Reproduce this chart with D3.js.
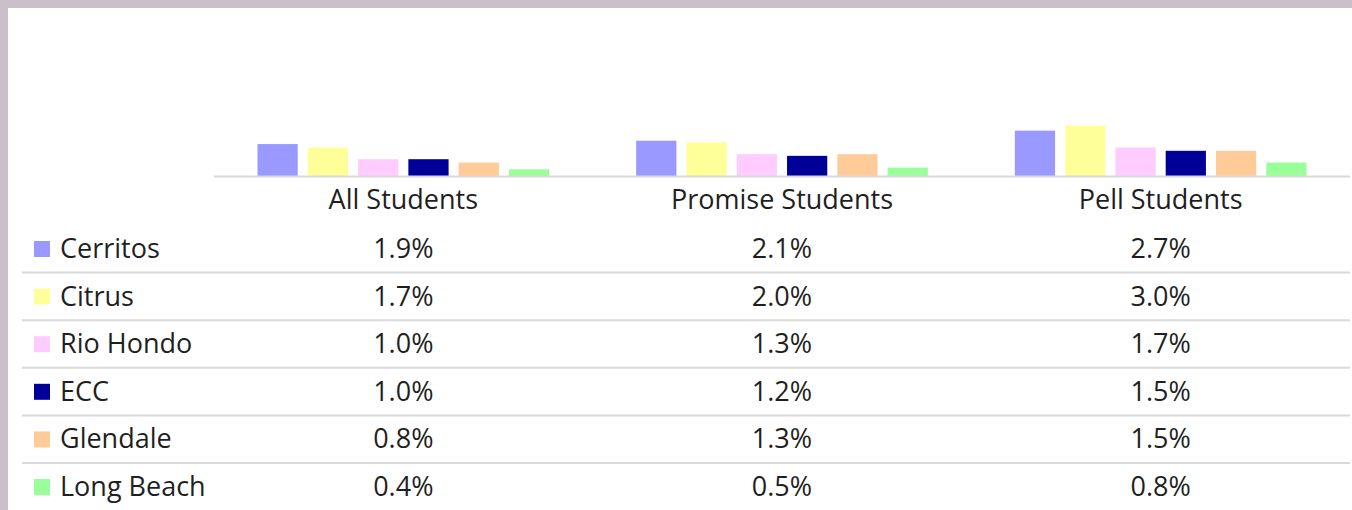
<!DOCTYPE html>
<html lang="en">
<head>
<meta charset="utf-8">
<script src="https://d3js.org/d3.v7.min.js"></script>
<style>
  html, body { margin: 0; padding: 0; background: #fff; }
  svg { display: block; font-family: "Open Sans", sans-serif; }
</style>
</head>
<body>
<script>
// chart data
var groups = ["All Students", "Promise Students", "Pell Students"];
var colleges = ["Cerritos", "Citrus", "Rio Hondo", "ECC", "Glendale", "Long Beach"];
var colors = ["#9999ff", "#ffff99", "#ffccff", "#000099", "#ffcc99", "#99ff99"];
var allStudents = [1.9, 1.7, 1.0, 1.0, 0.8, 0.4];
var promiseStudents = [2.1, 2.0, 1.3, 1.2, 1.3, 0.5];
var pellStudents = [2.7, 3.0, 1.7, 1.5, 1.5, 0.8];
var seriesByGroup = [allStudents, promiseStudents, pellStudents];

var width = 1352, height = 510;
var textColor = "#1f1f1f";
var gridColor = "#d9d9d9";
var fontSize = 27;

var svg = d3.select("body").append("svg")
  .attr("width", width)
  .attr("height", height);

// outer frame (top + left bands)
svg.append("rect").attr("x", 0).attr("y", 0).attr("width", width).attr("height", 8).attr("fill", "#cbbfc9");
svg.append("rect").attr("x", 0).attr("y", 0).attr("width", 8).attr("height", height).attr("fill", "#cbbfc9");

// scales
var x = d3.scaleBand().domain(groups).range([214, 1350]);
var xInner = d3.scaleBand().domain(colleges).range([0, x.bandwidth()])
  .paddingInner(0.2).paddingOuter(0.865);
var y = d3.scaleLinear().domain([0, 3.5]).range([176, 117.2]);
var rows = d3.scaleBand().domain(colleges).range([225, 225 + 47.6 * colleges.length]);

// bars
var g = svg.selectAll("g.group")
  .data(groups)
  .enter().append("g")
  .attr("class", "group")
  .attr("transform", function(d) { return "translate(" + x(d) + ",0)"; });

g.selectAll("rect")
  .data(function(d, i) {
    return colleges.map(function(c, j) { return {college: c, value: seriesByGroup[i][j], color: colors[j]}; });
  })
  .enter().append("rect")
  .attr("x", function(d) { return xInner(d.college); })
  .attr("y", function(d) { return y(d.value); })
  .attr("width", xInner.bandwidth())
  .attr("height", function(d) { return y(0) - y(d.value); })
  .attr("fill", function(d) { return d.color; });

// baseline
svg.append("line")
  .attr("x1", 214).attr("x2", 1350)
  .attr("y1", y(0) + 0.5).attr("y2", y(0) + 0.5)
  .attr("stroke", gridColor).attr("stroke-width", 2);

// header labels
svg.selectAll("text.header")
  .data(groups)
  .enter().append("text")
  .attr("class", "header")
  .attr("x", function(d) { return x(d) + x.bandwidth() / 2; })
  .attr("y", 209)
  .attr("text-anchor", "middle")
  .attr("font-size", fontSize)
  .attr("fill", textColor)
  .text(function(d) { return d; });

// row separator lines (between rows only)
svg.selectAll("line.row")
  .data(colleges.slice(0, -1))
  .enter().append("line")
  .attr("class", "row")
  .attr("x1", 22).attr("x2", 1350)
  .attr("y1", function(d) { return rows(d) + rows.bandwidth(); })
  .attr("y2", function(d) { return rows(d) + rows.bandwidth(); })
  .attr("stroke", gridColor).attr("stroke-width", 2);

// legend keys + names
svg.selectAll("rect.key")
  .data(colleges)
  .enter().append("rect")
  .attr("class", "key")
  .attr("x", 34)
  .attr("y", function(d) { return rows(d) + 16; })
  .attr("width", 16).attr("height", 16)
  .attr("fill", function(d, i) { return colors[i]; });

svg.selectAll("text.name")
  .data(colleges)
  .enter().append("text")
  .attr("class", "name")
  .attr("x", 60)
  .attr("y", function(d) { return rows(d) + 33; })
  .attr("font-size", fontSize)
  .attr("fill", textColor)
  .text(function(d) { return d; });

// table values
groups.forEach(function(grp, i) {
  svg.selectAll("text.val" + i)
    .data(seriesByGroup[i])
    .enter().append("text")
    .attr("class", "val" + i)
    .attr("x", x(grp) + x.bandwidth() / 2)
    .attr("y", function(d, j) { return rows(colleges[j]) + 33; })
    .attr("text-anchor", "middle")
    .attr("font-size", fontSize)
    .attr("fill", textColor)
    .text(function(d) { return d3.format(".1f")(d) + "%"; });
});
</script>
</body>
</html>
